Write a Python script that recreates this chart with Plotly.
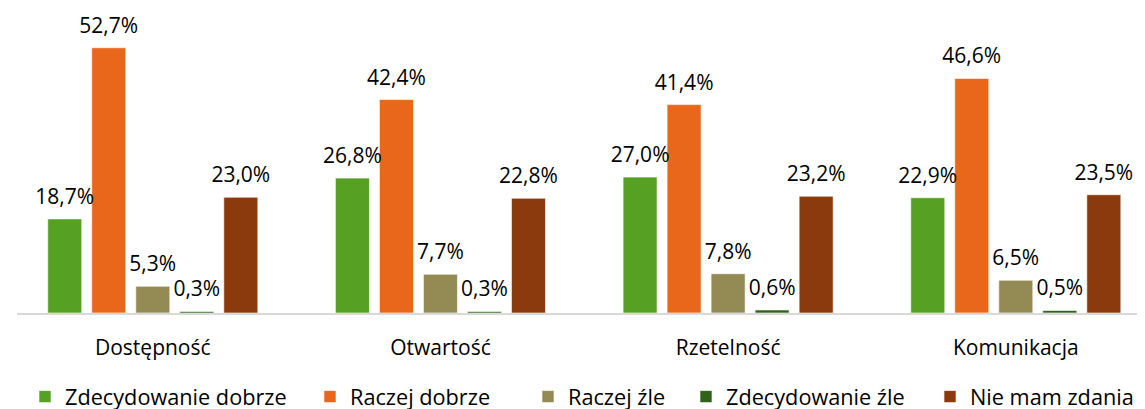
import plotly.graph_objects as go

categories = ["Dostępność", "Otwartość", "Rzetelność", "Komunikacja"]
series_names = ["Zdecydowanie dobrze", "Raczej dobrze", "Raczej źle", "Zdecydowanie źle", "Nie mam zdania"]
zdecydowanie_dobrze = [18.7, 26.8, 27.0, 22.9]
raczej_dobrze = [52.7, 42.4, 41.4, 46.6]
raczej_zle = [5.3, 7.7, 7.8, 6.5]
zdecydowanie_zle = [0.3, 0.3, 0.6, 0.5]
nie_mam_zdania = [23.0, 22.8, 23.2, 23.5]
series_values = [zdecydowanie_dobrze, raczej_dobrze, raczej_zle, zdecydowanie_zle, nie_mam_zdania]
colors = ["#56A024", "#E8671B", "#948A54", "#2F6418", "#8B3A0E"]
legend_text_px = [65, 350, 568, 726, 970]

FONT = "Open Sans"
L_MARGIN = 9
PLOT_W = 1145 - L_MARGIN

fig = go.Figure()
legend_ids = ["legend", "legend2", "legend3", "legend4", "legend5"]
for i, (name, vals, col) in enumerate(zip(series_names, series_values, colors)):
    fig.add_trace(go.Bar(
        x=categories, y=vals, name=name, offsetgroup=str(i),
        marker=dict(color=col, line=dict(color="rgba(255,255,255,0.6)", width=1)),
        hoverinfo="skip", legend=legend_ids[i],
    ))
for i, vals in enumerate(series_values):
    fig.add_trace(go.Scatter(
        x=categories, y=vals, mode="text+markers", offsetgroup=str(i),
        marker=dict(size=14, opacity=0),
        text=[f"{v:.1f}%".replace(".", ",") for v in vals],
        textposition="top center",
        textfont=dict(family=FONT, size=21, color="#000000"),
        showlegend=False, hoverinfo="skip", cliponaxis=False,
    ))

legends = {}
for i, lid in enumerate(legend_ids):
    legends[lid] = dict(
        orientation="h", x=(legend_text_px[i] - 48 - L_MARGIN) / PLOT_W, xanchor="left",
        y=-0.278, yanchor="middle", bgcolor="rgba(0,0,0,0)",
        font=dict(family=FONT, size=21.7, color="#000000"), itemwidth=30,
    )

fig.update_layout(
    width=1145, height=409,
    margin=dict(l=L_MARGIN, r=0, t=3, b=104, autoexpand=False),
    barmode="group", scattermode="group",
    bargap=0.235, bargroupgap=0.227, scattergap=0.235,
    plot_bgcolor="white", paper_bgcolor="white",
    font=dict(family=FONT, size=21, color="#000000"),
    showlegend=True,
    xaxis=dict(range=[-0.472, 3.477], showline=True, linecolor="#D9D9D9", linewidth=2,
               showgrid=False, zeroline=False, ticks="", ticklabelstandoff=15,
               tickfont=dict(family=FONT, size=21, color="#000000")),
    yaxis=dict(range=[0, 60], visible=False, showgrid=False, zeroline=False),
    **legends,
)

fig.write_html("out.html")
